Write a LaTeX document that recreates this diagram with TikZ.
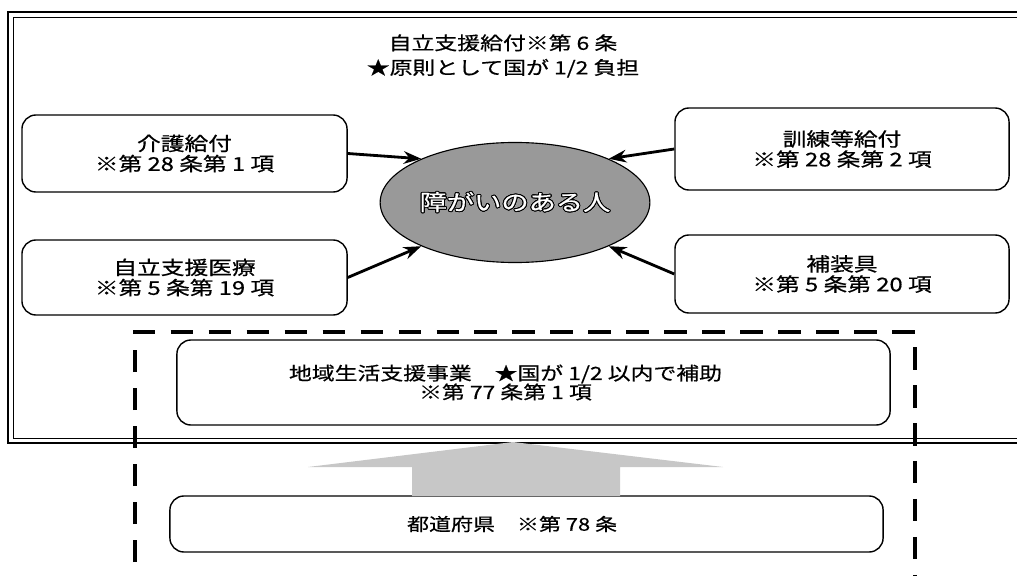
\documentclass[tikz,border=0pt]{standalone}
\usepackage{fontspec}
\setmainfont{Noto Sans CJK JP}[FakeStretch=1.25, FakeBold=0.6]
\usepackage{xcolor}
\usepackage{tikz}
\usetikzlibrary{arrows.meta,shapes.geometric}
\usepackage{contour}
\contourlength{0.7pt}

\begin{document}
\begin{tikzpicture}[x=0.025cm, y=-0.025cm,
	block/.style={rounded corners=0.35cm, draw=black, line width=1pt, align=center, font=\fontsize{13.5}{14.4}\selectfont},
	person/.style={ellipse, draw=black, line width=0.8pt, fill=black!40, text=white, inner sep=0pt, minimum width=6.65cm, minimum height=3.0cm, font=\fontsize{15.5}{17}\selectfont},
	arr/.style={-{Stealth[length=12.5pt,width=9pt]}, line width=2pt},
	region/.style={dash pattern=on 16pt off 11pt, line width=2.6pt},
	bigarrow/.style={fill=black!22}
	]
	\useasboundingbox (0,0) rectangle (1017,576);
	\clip (0,0) rectangle (1017,576);
	% outer frame and dashed region
	\draw[line width=1.5pt] (8,12) rectangle (1040,443);
	\draw[line width=0.5pt] (13,17) rectangle (1040,438);
	\draw[region] (135,600) -- (135,332) -- (915,332) -- (915,600);
	\node[align=center, font=\fontsize{13}{17.5}\selectfont] (title) at (503,56) {自立支援給付※第 6 条\\★原則として国が 1/2 負担};
	\node[block, minimum width=8.125cm, minimum height=1.925cm] (kaigo) at (184.5,153.5) {介護給付\\※第 28 条第 1 項};
	\node[block, minimum width=8.125cm, minimum height=1.875cm] (iryo) at (184.5,277.5) {自立支援医療\\※第 5 条第 19 項};
	\node[block, minimum width=8.35cm, minimum height=2.05cm] (kunren) at (842,149) {訓練等給付\\※第 28 条第 2 項};
	\node[block, minimum width=8.35cm, minimum height=1.95cm] (hosogu) at (842,274) {補装具\\※第 5 条第 20 項};
	\node[person] (person) at (515,202.5) {\contour{black}{障がいのある人}};
	\node[block, minimum width=17.825cm, minimum height=2.125cm, font=\fontsize{13}{13.5}\selectfont] (chiiki) at (533.5,382.5) {地域生活支援事業　★国が 1/2 以内で補助\hspace*{1.4cm}\\※第 77 条第 1 項\hspace*{1.4cm}};
	\node[block, minimum width=17.825cm, minimum height=1.4cm, font=\fontsize{12.5}{14}\selectfont] (todofuken) at (526.5,524) {都道府県　※第 78 条\hspace*{0.72cm}};
	\draw[arr] (kaigo.east) -- (person.155);
	\draw[arr] (iryo.east) -- (person.205);
	\draw[arr] (kunren.west) -- (person.25);
	\draw[arr] (hosogu.west) -- (person.-25);
	\coordinate (tip) at (513,442);
	\fill[bigarrow] (412,496) -- (412,467) -- (308,467) -- (tip) -- (723,467) -- (620,467) -- (620,496) -- cycle;
\end{tikzpicture}
\end{document}
